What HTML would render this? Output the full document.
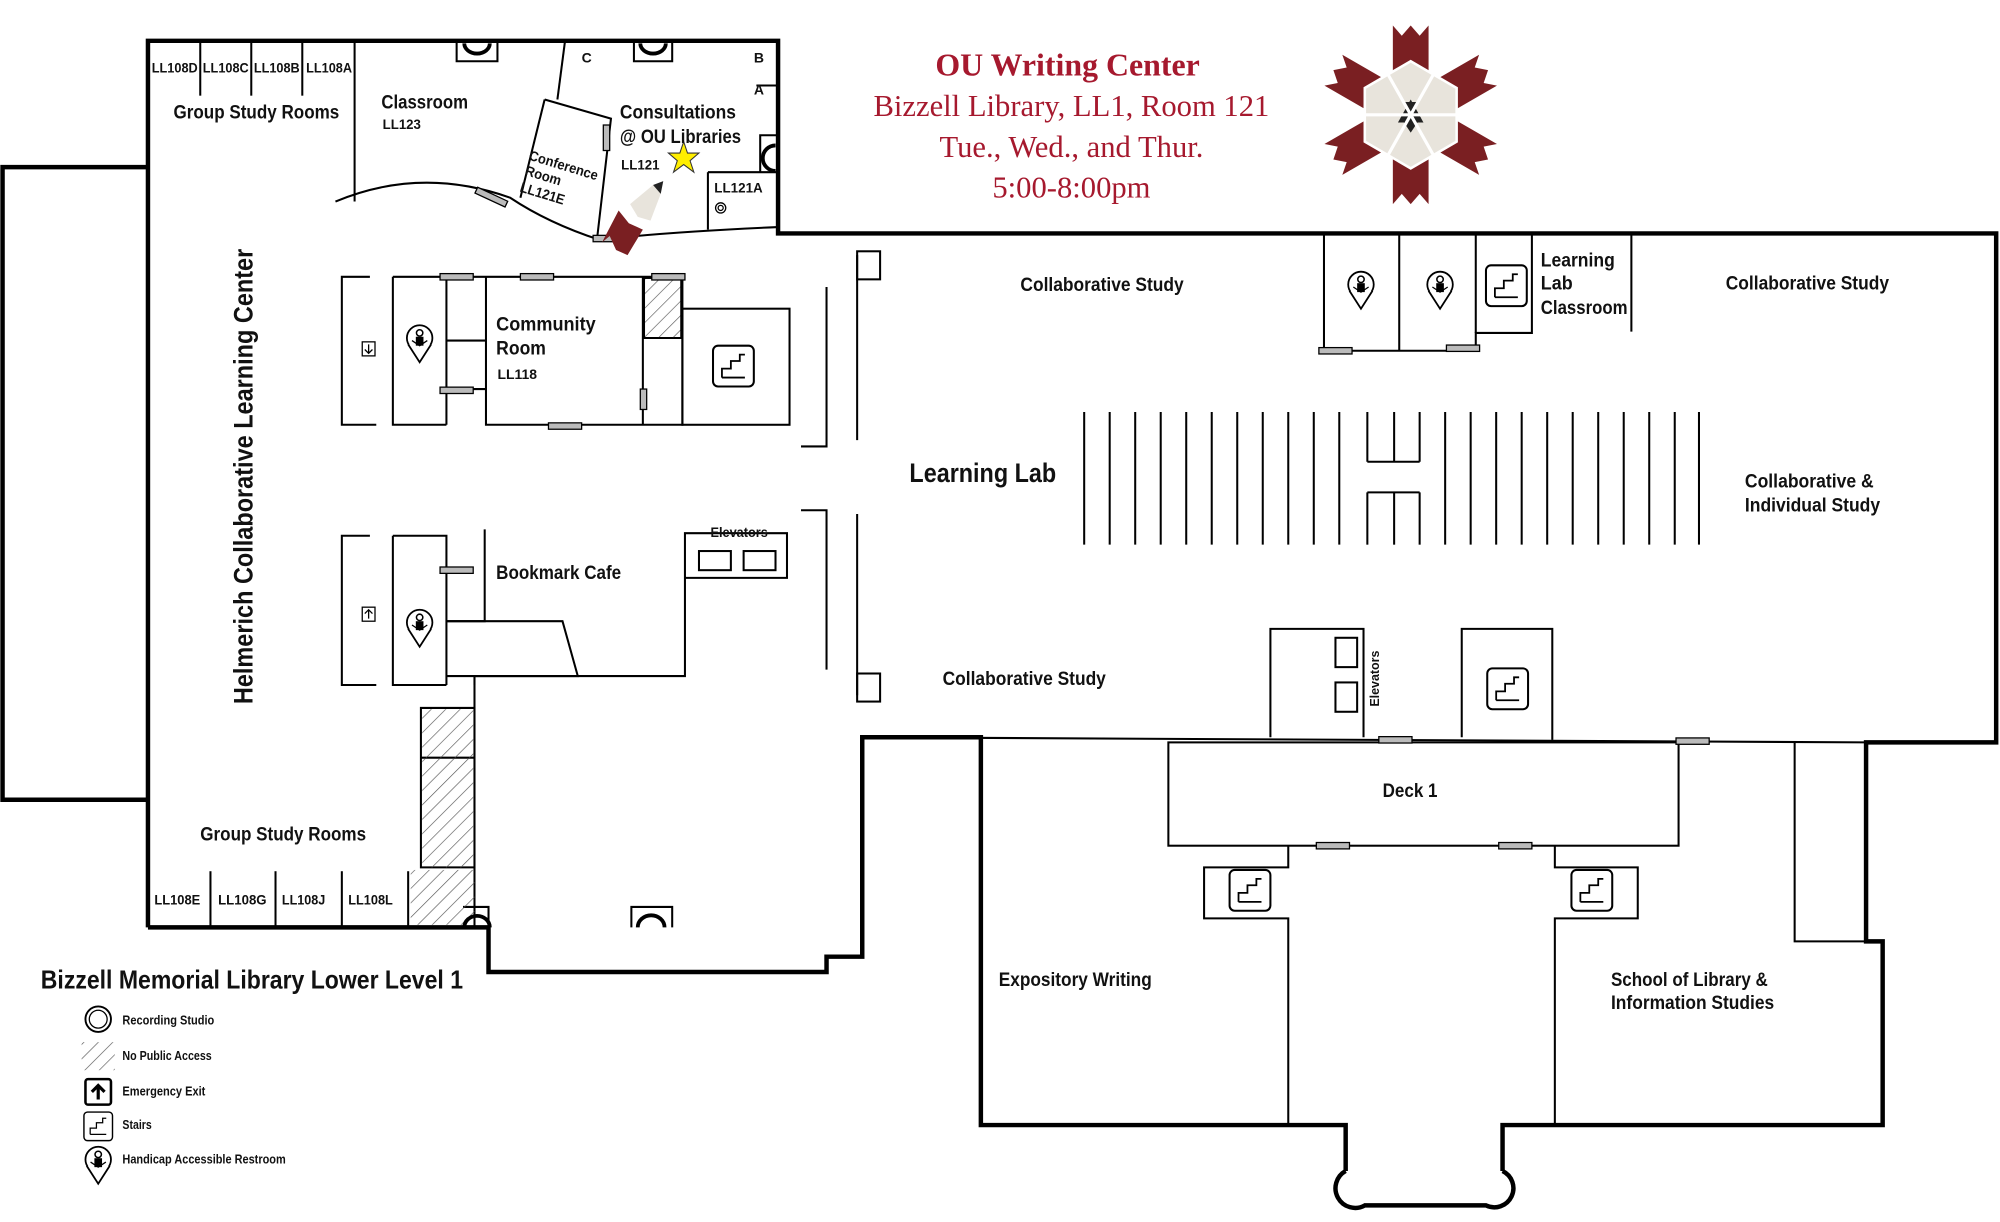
<!DOCTYPE html>
<html><head><meta charset="utf-8"><style>
html,body{margin:0;padding:0;background:#fff;}
svg{display:block}
text{font-family:"Liberation Sans Narrow","Liberation Sans",sans-serif;font-weight:bold;fill:#111}
.t{font-family:"Liberation Serif",serif;font-weight:normal;fill:#a6192e;text-anchor:middle}
</style></head><body>
<svg width="2000" height="1222" viewBox="0 0 1568 958" preserveAspectRatio="none" xmlns="http://www.w3.org/2000/svg">
<defs>
<pattern id="h" width="8" height="8" patternUnits="userSpaceOnUse" patternTransform="rotate(45)"><line x1="0" y1="0" x2="0" y2="8" stroke="#555" stroke-width="1"/></pattern>
<g id="st"><rect x="-16" y="-16" width="32" height="32" rx="4" fill="#fff" stroke="#000" stroke-width="1.6"/><path d="M-9 9 H9 M-9 9 V2 H-2 V-4 H5 V-9 H9" fill="none" stroke="#000" stroke-width="1.4"/></g>
<g id="hc"><circle cx="0" cy="0" r="10" fill="#fff" stroke="#000" stroke-width="1.4"/><path d="M-9 5 L0 19 L9 5" fill="#fff" stroke="#000" stroke-width="1.4"/><circle cx="0" cy="-4" r="2.5" fill="none" stroke="#000" stroke-width="1.2"/><rect x="-3" y="-1" width="6" height="7" fill="#000"/><path d="M-6 2 L0 6 L6 2" fill="none" stroke="#000"/></g>
<g id="dr"><rect x="-13" y="-2.5" width="26" height="5" fill="#bbb" stroke="#000" stroke-width="1"/></g>
</defs>

<g fill="none" stroke="#000" stroke-width="3.5">
<path d="M116 131 H2 V627 H116"/>
<path d="M116 727 V32 H610 V183 H1565 V582 H1463 V738 H1476 V882 H1178 V918"/>
<path d="M116 727 H383 V762 H648 V750 H676 V578 H769 V882 H1055 V918"/>
<path d="M1055 918 A14 14 0 1 0 1070 945 H1165 A14 14 0 1 0 1178 918"/>
</g>
<g fill="none" stroke="#000" stroke-width="1.6">
<line x1="676" y1="578" x2="1463" y2="582"/>
<rect x="916" y="582" width="400" height="81"/>
<path d="M1407 582 V738 H1463"/>
<path d="M1010 663 V680 H944 V720 H1010 V882"/>
<path d="M1219 663 V680 H1284 V720 H1219 V882"/>
<path d="M996 578 V493 H1069 V578"/>
<rect x="1047" y="500" width="17" height="23"/><rect x="1047" y="535" width="17" height="23"/>
<path d="M1146 578 V493 H1217 V580"/>
<path d="M1038 183 V275 H1157 V261 H1201 V183"/>
<line x1="1097" y1="183" x2="1097" y2="275"/><line x1="1157" y1="183" x2="1157" y2="261"/>
<line x1="1279" y1="183" x2="1279" y2="260"/>
<line x1="157" y1="32" x2="157" y2="75"/><line x1="197" y1="32" x2="197" y2="75"/><line x1="237" y1="32" x2="237" y2="75"/><line x1="278" y1="32" x2="278" y2="158"/>
<path d="M263 158 Q330 130 400 155 Q430 175 470 188 Q520 182 610 178"/>
<path d="M443 32 L437 78"/>
<path d="M427 78 L479 93 L468 188"/><path d="M427 78 L408 155"/>
<path d="M593 67 H610"/><path d="M555 135 H610"/><path d="M555 135 V180"/>
<path d="M290 217 H268 V333 H295"/>
<path d="M308 217 V333 H350"/>
<path d="M308 217 H535 V333 H381 V217"/>
<line x1="350" y1="217" x2="350" y2="333"/><line x1="350" y1="305" x2="381" y2="305"/>
<line x1="350" y1="267" x2="381" y2="267"/>
<line x1="504" y1="217" x2="504" y2="333"/><line x1="504" y1="265" x2="535" y2="265"/>
<rect x="535" y="242" width="84" height="91"/>
<path d="M628 350 H648 V225"/><line x1="672" y1="200" x2="672" y2="345"/>
<path d="M628 400 H648 V525"/><line x1="672" y1="403" x2="672" y2="545"/>
<path d="M290 420 H268 V537 H295"/>
<path d="M308 420 V537 H350"/>
<path d="M308 420 H350 V537"/>
<path d="M380 415 V487 H350"/>
<path d="M350 487 H441 L453 530 H372 V537"/>
<path d="M350 530 H537 V453 H617 V418 H537 V453"/>
<rect x="548" y="432" width="25" height="15"/><rect x="583" y="432" width="25" height="15"/>
<path d="M372 530 V727"/><path d="M330 555 H372 V680 H330 Z"/>
<line x1="330" y1="594" x2="372" y2="594"/>
<line x1="165" y1="683" x2="165" y2="727"/><line x1="216" y1="683" x2="216" y2="727"/><line x1="268" y1="683" x2="268" y2="727"/><line x1="320" y1="683" x2="320" y2="727"/>
<path d="M383 727 V711 H363 M495 727 V711 H527 V727"/>
<path d="M358 32 V48 H390 V32 M497 32 V48 H527 V32"/>
<path d="M610 106 H596 V135"/>
<rect x="672" y="197" width="18" height="22"/><rect x="672" y="528" width="18" height="22"/>
</g>
<rect x="505" y="218" width="29" height="47" fill="url(#h)" stroke="#000" stroke-width="1.4"/>
<rect x="331" y="556" width="40" height="38" fill="url(#h)"/><rect x="331" y="595" width="40" height="85" fill="url(#h)"/>
<rect x="322" y="682" width="50" height="43" fill="url(#h)"/>
<g fill="none" stroke="#000" stroke-width="3">
<path d="M364 34 A10 8 0 0 0 384 34"/><path d="M502 34 A10 8 0 0 0 522 34"/>
<path d="M364 727 A10 9 0 0 1 384 727"/><path d="M500 727 A10 9 0 0 1 521 727"/>
<path d="M608 114 A10 10 0 0 0 608 134"/>
</g>
<circle cx="565" cy="163" r="4" fill="none" stroke="#000"/><circle cx="565" cy="163" r="2" fill="none" stroke="#000"/>
<g stroke="#000" stroke-width="1.6">
<line x1="850" y1="323" x2="850" y2="427"/><line x1="870" y1="323" x2="870" y2="427"/><line x1="890" y1="323" x2="890" y2="427"/><line x1="910" y1="323" x2="910" y2="427"/><line x1="930" y1="323" x2="930" y2="427"/><line x1="950" y1="323" x2="950" y2="427"/><line x1="970" y1="323" x2="970" y2="427"/><line x1="990" y1="323" x2="990" y2="427"/><line x1="1010" y1="323" x2="1010" y2="427"/><line x1="1030" y1="323" x2="1030" y2="427"/><line x1="1050" y1="323" x2="1050" y2="427"/>
<line x1="1072" y1="323" x2="1072" y2="362"/><line x1="1072" y1="386" x2="1072" y2="427"/>
<line x1="1093" y1="323" x2="1093" y2="362"/><line x1="1093" y1="386" x2="1093" y2="427"/>
<line x1="1113" y1="323" x2="1113" y2="362"/><line x1="1113" y1="386" x2="1113" y2="427"/>
<line x1="1072" y1="362" x2="1113" y2="362"/><line x1="1072" y1="386" x2="1113" y2="386"/>
<line x1="1133" y1="323" x2="1133" y2="427"/><line x1="1153" y1="323" x2="1153" y2="427"/><line x1="1173" y1="323" x2="1173" y2="427"/><line x1="1193" y1="323" x2="1193" y2="427"/><line x1="1213" y1="323" x2="1213" y2="427"/><line x1="1233" y1="323" x2="1233" y2="427"/><line x1="1253" y1="323" x2="1253" y2="427"/><line x1="1273" y1="323" x2="1273" y2="427"/><line x1="1293" y1="323" x2="1293" y2="427"/><line x1="1313" y1="323" x2="1313" y2="427"/><line x1="1332" y1="323" x2="1332" y2="427"/>
</g>
<use href="#dr" x="1094" y="580"/><use href="#dr" x="1327" y="581"/><use href="#dr" x="1045" y="663"/><use href="#dr" x="1188" y="663"/>
<use href="#dr" x="1047" y="275"/><use href="#dr" x="1147" y="273"/>
<use href="#dr" x="421" y="217"/><use href="#dr" x="443" y="334"/><use href="#dr" x="524" y="217"/><use href="#dr" x="358" y="217"/><use href="#dr" x="358" y="306"/><use href="#dr" x="358" y="447"/>
<rect x="502" y="305" width="5" height="16" fill="#bbb" stroke="#000"/>
<rect x="473" y="98" width="5" height="20" fill="#bbb" stroke="#000"/>
<rect x="372" y="152" width="26" height="5" fill="#bbb" stroke="#000" transform="rotate(25 385 155)"/>
<use href="#dr" x="478" y="187"/>
<use href="#st" x="575" y="287"/><use href="#st" x="1182" y="540"/><use href="#st" x="980" y="698"/><use href="#st" x="1248" y="698"/><use href="#st" x="1181" y="224"/>
<use href="#hc" x="329" y="265"/><use href="#hc" x="329" y="488"/><use href="#hc" x="1067" y="223"/><use href="#hc" x="1129" y="223"/>
<rect x="284" y="268" width="10" height="11" fill="#fff" stroke="#000"/><path d="M289 270 V277 M286 274 L289 277 L292 274" stroke="#000" fill="none"/>
<rect x="284" y="476" width="10" height="11" fill="#fff" stroke="#000"/><path d="M289 485 V478 M286 481 L289 478 L292 481" stroke="#000" fill="none"/>
<polygon points="536,111 539,120 548,120 541,126 544,135 536,129 528,135 531,126 524,120 533,120" fill="#ffee00" stroke="#333" stroke-width="0.8"/>
<polygon points="494,160 512,145 518,152 510,173 500,170" fill="#e8e4dc"/>
<polygon points="512,145 520,142 518,152" fill="#222"/>
<polygon points="485,165 493,175 504,180 492,200 483,196 478,185 472,190" fill="#7a1f22"/>
<g transform="translate(1106,90)">
<g fill="#7a1f22">
<polygon points="-14,-70 -7,-62 0,-70 7,-62 14,-70 14,-30 -14,-30"/>
<polygon points="-14,70 -7,62 0,70 7,62 14,70 14,30 -14,30"/>
<g transform="rotate(60)"><polygon points="-14,-70 -7,-62 0,-70 7,-62 14,-70 14,-30 -14,-30"/><polygon points="-14,70 -7,62 0,70 7,62 14,70 14,30 -14,30"/></g>
<g transform="rotate(-60)"><polygon points="-14,-70 -7,-62 0,-70 7,-62 14,-70 14,-30 -14,-30"/><polygon points="-14,70 -7,62 0,70 7,62 14,70 14,30 -14,30"/></g>
</g>
<polygon points="0,-42 36,-21 36,21 0,42 -36,21 -36,-21" fill="#e8e4dc" stroke="#fff" stroke-width="2"/>
<polygon points="0,-12 10,6 -10,6" fill="#222"/><polygon points="-6,-10 6,-10 0,0" fill="#222"/><polygon points="-8,2 8,2 0,14" fill="#222"/>
<path d="M-36 0 H36 M-18 -32 L18 32 M18 -32 L-18 32" stroke="#fff" stroke-width="2.5"/>
</g>
<text class="t" x="837" y="59" font-size="25" style="font-weight:bold;fill:#a6192e">OU Writing Center</text>
<text class="t" x="840" y="91" font-size="24">Bizzell Library, LL1, Room 121</text>
<text class="t" x="840" y="123" font-size="24">Tue., Wed., and Thur.</text>
<text class="t" x="840" y="155" font-size="24">5:00-8:00pm</text>
<g font-size="11" lengthAdjust="spacingAndGlyphs">
<text x="119" y="57" textLength="36" lengthAdjust="spacingAndGlyphs">LL108D</text><text x="159" y="57" textLength="36" lengthAdjust="spacingAndGlyphs">LL108C</text><text x="199" y="57" textLength="36" lengthAdjust="spacingAndGlyphs">LL108B</text><text x="240" y="57" textLength="36" lengthAdjust="spacingAndGlyphs">LL108A</text>
<text x="121" y="709" textLength="36" lengthAdjust="spacingAndGlyphs">LL108E</text><text x="171" y="709" textLength="38" lengthAdjust="spacingAndGlyphs">LL108G</text><text x="221" y="709" textLength="34" lengthAdjust="spacingAndGlyphs">LL108J</text><text x="273" y="709" textLength="35" lengthAdjust="spacingAndGlyphs">LL108L</text>
<text x="300" y="101" textLength="30" lengthAdjust="spacingAndGlyphs">LL123</text><text x="487" y="133" textLength="30" lengthAdjust="spacingAndGlyphs">LL121</text><text x="560" y="151" textLength="38" lengthAdjust="spacingAndGlyphs">LL121A</text><text x="390" y="297" textLength="31" lengthAdjust="spacingAndGlyphs">LL118</text>
<text x="456" y="49">C</text><text x="591" y="49">B</text><text x="591" y="74">A</text>
<text x="557" y="421" textLength="45" lengthAdjust="spacingAndGlyphs">Elevators</text>
<text transform="translate(1081,554) rotate(-90)" font-size="10" textLength="44" lengthAdjust="spacingAndGlyphs">Elevators</text>
<text transform="translate(414,125) rotate(17)" textLength="56" lengthAdjust="spacingAndGlyphs">Conference</text><text transform="translate(411,137) rotate(17)" textLength="29" lengthAdjust="spacingAndGlyphs">Room</text><text transform="translate(407,150) rotate(17)" textLength="36" lengthAdjust="spacingAndGlyphs">LL121E</text>
</g>
<g font-size="15">
<text x="136" y="93" textLength="130" lengthAdjust="spacingAndGlyphs">Group Study Rooms</text><text x="299" y="85" textLength="68" lengthAdjust="spacingAndGlyphs">Classroom</text>
<text x="486" y="93" textLength="91" lengthAdjust="spacingAndGlyphs">Consultations</text><text x="486" y="112" textLength="95" lengthAdjust="spacingAndGlyphs">@ OU Libraries</text>
<text x="389" y="259" textLength="78" lengthAdjust="spacingAndGlyphs">Community</text><text x="389" y="278" textLength="39" lengthAdjust="spacingAndGlyphs">Room</text>
<text x="389" y="454" textLength="98" lengthAdjust="spacingAndGlyphs">Bookmark Cafe</text><text x="157" y="659" textLength="130" lengthAdjust="spacingAndGlyphs">Group Study Rooms</text>
<text x="800" y="228" textLength="128" lengthAdjust="spacingAndGlyphs">Collaborative Study</text><text x="1353" y="227" textLength="128" lengthAdjust="spacingAndGlyphs">Collaborative Study</text>
<text x="739" y="537" textLength="128" lengthAdjust="spacingAndGlyphs">Collaborative Study</text>
<text x="1208" y="209" textLength="58" lengthAdjust="spacingAndGlyphs">Learning</text><text x="1208" y="227" textLength="25" lengthAdjust="spacingAndGlyphs">Lab</text><text x="1208" y="246" textLength="68" lengthAdjust="spacingAndGlyphs">Classroom</text>
<text x="1368" y="382" textLength="101" lengthAdjust="spacingAndGlyphs">Collaborative &amp;</text><text x="1368" y="401" textLength="106" lengthAdjust="spacingAndGlyphs">Individual Study</text>
<text x="1084" y="625" textLength="43" lengthAdjust="spacingAndGlyphs">Deck 1</text><text x="783" y="773" textLength="120" lengthAdjust="spacingAndGlyphs">Expository Writing</text>
<text x="1263" y="773" textLength="123" lengthAdjust="spacingAndGlyphs">School of Library &amp;</text><text x="1263" y="791" textLength="128" lengthAdjust="spacingAndGlyphs">Information Studies</text>
</g>
<text x="713" y="378" font-size="21" textLength="115" lengthAdjust="spacingAndGlyphs">Learning Lab</text>
<text transform="translate(198,552) rotate(-90)" font-size="21" textLength="357" lengthAdjust="spacingAndGlyphs">Helmerich Collaborative Learning Center</text>
<text x="32" y="775" font-size="20" textLength="331" lengthAdjust="spacingAndGlyphs">Bizzell Memorial Library Lower Level 1</text>
<circle cx="77" cy="799" r="10" fill="none" stroke="#000" stroke-width="1.5"/><circle cx="77" cy="799" r="7" fill="none" stroke="#000" stroke-width="1"/>
<rect x="64" y="817" width="26" height="22" fill="url(#h)"/>
<rect x="67" y="846" width="20" height="20" rx="2" fill="#fff" stroke="#000" stroke-width="2"/><path d="M77 862 V851 M72 856 L77 851 L82 856" stroke="#000" stroke-width="2.5" fill="none"/>
<g transform="translate(77,883) scale(0.7)"><use href="#st"/></g>
<g transform="translate(77,909)"><use href="#hc"/></g>
<g font-size="10"><text x="96" y="803" textLength="72" lengthAdjust="spacingAndGlyphs">Recording Studio</text><text x="96" y="831" textLength="70" lengthAdjust="spacingAndGlyphs">No Public Access</text><text x="96" y="859" textLength="65" lengthAdjust="spacingAndGlyphs">Emergency Exit</text><text x="96" y="885" textLength="23" lengthAdjust="spacingAndGlyphs">Stairs</text><text x="96" y="912" textLength="128" lengthAdjust="spacingAndGlyphs">Handicap Accessible Restroom</text></g>
</svg>
</body></html>
